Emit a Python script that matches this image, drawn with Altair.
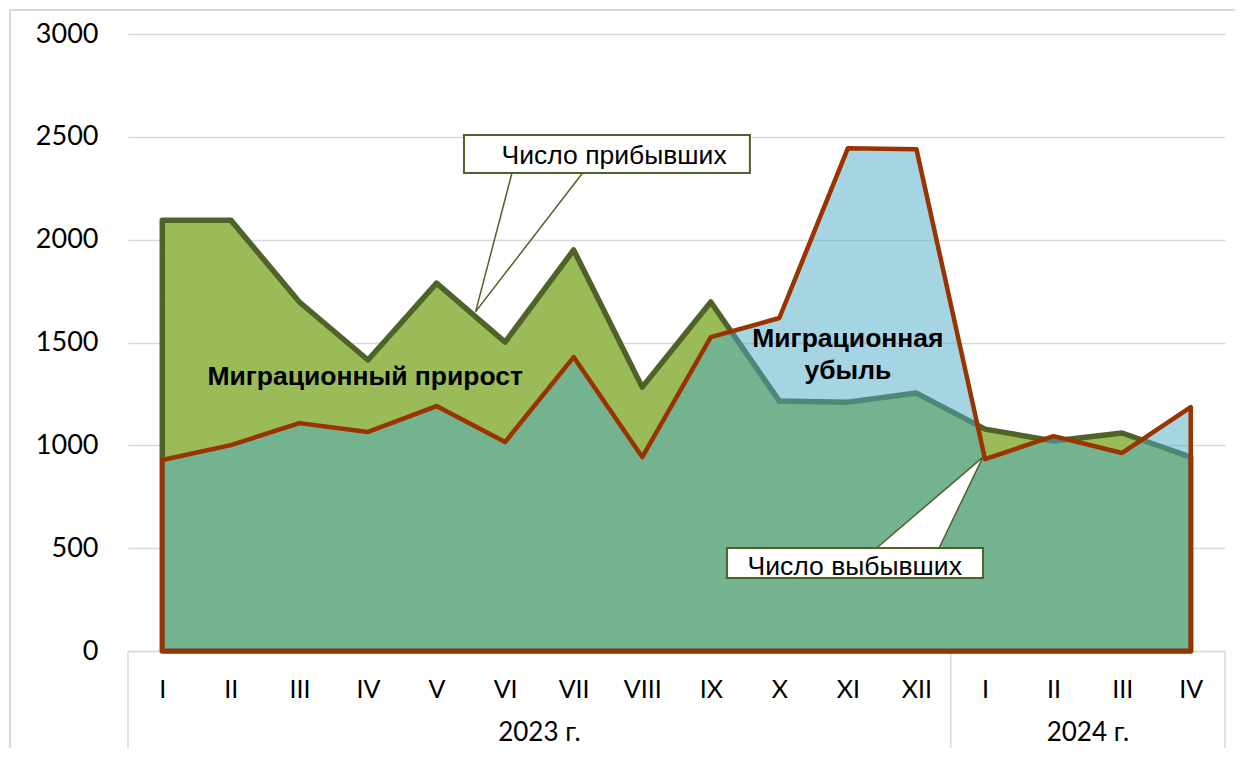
import altair as alt
import pandas as pd

# ---- data ----
months = ["I", "II", "III", "IV", "V", "VI", "VII", "VIII", "IX", "X", "XI", "XII",
          "I", "II", "III", "IV"]
years = ["2023 г."] * 12 + ["2024 г."] * 4
arrivals = [2095, 2095, 1697, 1415, 1789, 1502, 1950, 1283, 1697, 1215, 1210, 1254,
            1079, 1021, 1060, 943]
departures = [929, 1001, 1108, 1065, 1191, 1016, 1429, 943, 1526, 1619, 2445, 2440,
              933, 1045, 963, 1186]
y_ticks = [0, 500, 1000, 1500, 2000, 2500, 3000]

W, H = 1097, 617
AX_FONT = "Lato"
TX_FONT = "Liberation Sans"
GRID = "#D9D9D9"
OLIVE_DARK = "#4F6228"
OLIVE = "#9BBB59"
AQUA = "#4BACC6"
RED = "#993300"
TX_SIZE = 26.5

n = len(months)
df = pd.DataFrame({"i": list(range(n)), "month": months, "year": years,
                   "arr": arrivals, "dep": departures})

xs = alt.Scale(domain=[-0.5, n - 0.5], nice=False, zero=False)
ys = alt.Scale(domain=[0, 3000], nice=False)

label_expr = "[" + ",".join("'" + m + "'" for m in months) + "][datum.value]"

base = alt.Chart(df)

arr_area = base.mark_area(fill=OLIVE, stroke=OLIVE_DARK, strokeWidth=5.5,
                          strokeJoin="round").encode(
    x=alt.X("i:Q", scale=xs,
            axis=alt.Axis(values=list(range(n)), labelExpr=label_expr, grid=False,
                          ticks=False, domain=True, domainColor=GRID, domainWidth=1.5,
                          labelFont=AX_FONT, labelFontSize=25, labelColor="#000000",
                          labelPadding=26, title=None, zindex=0)),
    y=alt.Y("arr:Q", scale=ys,
            axis=alt.Axis(values=y_ticks, format="d", grid=True, gridColor=GRID,
                          gridWidth=1.5, ticks=False, domain=False, labelFont=AX_FONT,
                          labelFontSize=27, labelColor="#000000", labelPadding=30,
                          title=None, zindex=0)),
)

dep_area = base.mark_area(fill=AQUA, fillOpacity=0.5, stroke=RED, strokeWidth=4.5,
                          strokeJoin="round").encode(
    x=alt.X("i:Q", scale=xs),
    y=alt.Y("dep:Q", scale=ys),
)

# year group labels and separators (derived from the data)
yr = df.groupby("year", as_index=False).agg(lo=("i", "min"), hi=("i", "max"))
yr["mid"] = (yr["lo"] + yr["hi"]) / 2
bounds = sorted(set([v - 0.5 for v in yr["lo"]] + [v + 0.5 for v in yr["hi"]]))
sep_df = pd.DataFrame({"b": bounds})

year_text = alt.Chart(yr).mark_text(font=AX_FONT, fontSize=26, color="#000000",
                                    baseline="middle").encode(
    x=alt.X("mid:Q", scale=xs), y=alt.value(H + 82), text="year:N")

seps = alt.Chart(sep_df).mark_rule(color=GRID, strokeWidth=1.5).encode(
    x=alt.X("b:Q", scale=xs), y=alt.value(H + 1), y2=alt.value(H + 140))

# outer chart frame (top and left edges visible)
frame_top = alt.Chart(df).mark_rule(color=GRID, strokeWidth=2).encode(
    x=alt.value(-118), x2=alt.value(W + 60), y=alt.value(-24))
frame_left = alt.Chart(df).mark_rule(color=GRID, strokeWidth=2).encode(
    x=alt.value(-118), y=alt.value(-24), y2=alt.value(H + 140))

# ---- callout: Число прибывших ----
c1_box = pd.DataFrame({"x1": [4.40], "x2": [8.57], "y1": [2509], "y2": [2324]})
c1_lines = pd.DataFrame({"x1": [5.10, 6.13], "y1": [2324, 2324],
                         "x2": [4.57, 4.57], "y2": [1650, 1650]})
c1_text = pd.DataFrame({"x": [6.59], "y": [2407], "t": ["Число прибывших"]})

c1_l = alt.Chart(c1_lines).mark_rule(color=OLIVE_DARK, strokeWidth=1.5).encode(
    x=alt.X("x1:Q", scale=xs), x2="x2:Q", y=alt.Y("y1:Q", scale=ys), y2="y2:Q")
c1_b = alt.Chart(c1_box).mark_rect(fill="white", stroke=OLIVE_DARK, strokeWidth=2).encode(
    x=alt.X("x1:Q", scale=xs), x2="x2:Q", y=alt.Y("y1:Q", scale=ys), y2="y2:Q")
c1_t = alt.Chart(c1_text).mark_text(font=TX_FONT, fontSize=TX_SIZE, color="#000000",
                                    baseline="middle").encode(
    x=alt.X("x:Q", scale=xs), y=alt.Y("y:Q", scale=ys), text="t:N")

# ---- callout: Число выбывших ----
c2_box = pd.DataFrame({"x1": [8.236], "x2": [11.97], "y1": [501], "y2": [355]})
wedge = pd.DataFrame({"x": [10.42, 11.33, 11.97],
                      "top": [501, 760, 943], "bot": [501, 501, 943]})
c2_lines = pd.DataFrame({"x1": [10.42, 11.33], "y1": [501, 501],
                         "x2": [11.97, 11.97], "y2": [943, 943]})
c2_text = pd.DataFrame({"x": [10.10], "y": [408], "t": ["Число выбывших"]})

c2_w = alt.Chart(wedge).mark_area(fill="white", strokeWidth=0).encode(
    x=alt.X("x:Q", scale=xs), y=alt.Y("top:Q", scale=ys), y2="bot:Q")
c2_l = alt.Chart(c2_lines).mark_rule(color=OLIVE_DARK, strokeWidth=1.5).encode(
    x=alt.X("x1:Q", scale=xs), x2="x2:Q", y=alt.Y("y1:Q", scale=ys), y2="y2:Q")
c2_b = alt.Chart(c2_box).mark_rect(fill="white", stroke=OLIVE_DARK, strokeWidth=2).encode(
    x=alt.X("x1:Q", scale=xs), x2="x2:Q", y=alt.Y("y1:Q", scale=ys), y2="y2:Q")
c2_t = alt.Chart(c2_text).mark_text(font=TX_FONT, fontSize=TX_SIZE, color="#000000",
                                    baseline="middle").encode(
    x=alt.X("x:Q", scale=xs), y=alt.Y("y:Q", scale=ys), text="t:N")

# ---- bold area annotations ----
ann = pd.DataFrame({"x": [2.96, 10.0, 10.0], "y": [1330, 1517, 1361],
                    "t": ["Миграционный прирост", "Миграционная", "убыль"]})
ann_t = alt.Chart(ann).mark_text(font=TX_FONT, fontSize=TX_SIZE, fontWeight="bold",
                                 color="#000000", baseline="middle").encode(
    x=alt.X("x:Q", scale=xs), y=alt.Y("y:Q", scale=ys), text="t:N")

chart = alt.layer(
    frame_top, frame_left, seps, arr_area, dep_area, year_text,
    c1_l, c1_b, c1_t, c2_w, c2_l, c2_b, c2_t, ann_t
).properties(
    width=W, height=H,
    autosize=alt.AutoSizeParams(type="none"),
    padding={"left": 120, "top": 26, "right": 10, "bottom": 97},
).configure_view(stroke=None)

chart.save("out.html", embed_options={"renderer": "svg", "actions": False})
